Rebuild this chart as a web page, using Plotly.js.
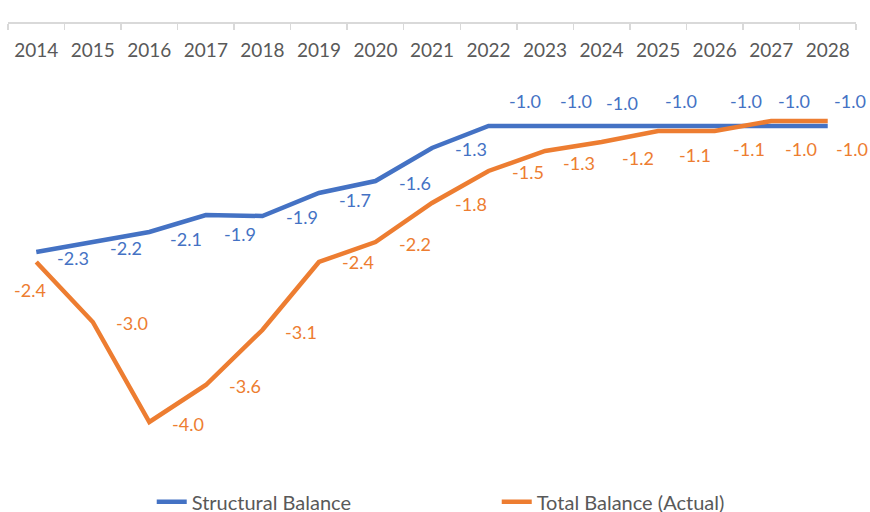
<!DOCTYPE html>
<html>
<head>
<meta charset="utf-8">
<script src="https://cdn.plot.ly/plotly-3.0.1.min.js"></script>
<style>html,body{margin:0;padding:0;background:#fff;}#chart{width:870px;height:512px;}</style>
</head>
<body>
<div id="chart"></div>
<script>
const years = ['2014','2015','2016','2017','2018','2019','2020','2021','2022','2023','2024','2025','2026','2027','2028'];
const structuralBalance = [-2.30,-2.20,-2.10,-1.93,-1.94,-1.71,-1.59,-1.26,-1.04,-1.04,-1.04,-1.04,-1.04,-1.04,-1.04];
const totalBalance = [-2.40,-3.00,-4.00,-3.63,-3.08,-2.40,-2.20,-1.81,-1.49,-1.29,-1.20,-1.09,-1.09,-0.99,-0.99];
const seriesNames = ['Structural Balance','Total Balance (Actual)'];

// label offsets in pixels (style only): [dx, dy] with dy positive = downward
const blueOffsets = [[37,6],[33,6],[37,7],[34,19],[40,1],[36,7],[40,2],[39,1],[36,-25],[31,-25],[20,-23],[23,-25],[31,-25],[23,-25],[22,-25]];
const orangeOffsets = [[-6,28],[39,1],[39,2],[39,1],[39,2],[39,0],[40,2],[39,1],[39,1],[34,12],[36,16],[37,24],[34,18],[30,28],[24,28]];

const BLUE = '#4472C4', ORANGE = '#ED7D31';
const FONT = 'Lato, sans-serif';

const traces = [
  {x: years, y: structuralBalance, type: 'scatter', mode: 'lines', name: seriesNames[0],
   line: {color: BLUE, width: 4.5}, hoverinfo: 'skip'},
  {x: years, y: totalBalance, type: 'scatter', mode: 'lines', name: seriesNames[1],
   line: {color: ORANGE, width: 4.5}, hoverinfo: 'skip'}
];

const annotations = [];
function addLabels(vals, offs, color) {
  vals.forEach(function(v, i) {
    annotations.push({x: i, y: v, xref: 'x', yref: 'y', text: v.toFixed(1),
      showarrow: false, xanchor: 'center', yanchor: 'middle',
      xshift: offs[i][0], yshift: -offs[i][1], font: {family: FONT, size: 18, color: color}});
  });
}
addLabels(structuralBalance, blueOffsets, BLUE);
addLabels(totalBalance, orangeOffsets, ORANGE);

const layout = {
  width: 870, height: 512,
  margin: {l: 8, r: 14, t: 22, b: 40, autoexpand: false},
  paper_bgcolor: '#fff', plot_bgcolor: '#fff',
  font: {family: FONT, size: 18, color: '#595959'},
  showlegend: true,
  legend: {orientation: 'h', x: 0.1695, xanchor: 'left', y: -0.066, yanchor: 'middle',
    font: {family: FONT, size: 20, color: '#595959'}, entrywidth: 300, traceorder: 'normal',
    tracegroupgap: 0, borderwidth: 0},
  xaxis: {type: 'category', range: [-0.5, 14.5], anchor: 'free', position: 1, side: 'bottom',
    showline: true, linecolor: '#D9D9D9', linewidth: 1.5, showgrid: false, zeroline: false,
    ticks: 'outside', ticklen: 6, tickwidth: 1.5, tickcolor: '#D9D9D9', tickson: 'boundaries',
    ticklabelstandoff: 11, tickfont: {family: FONT, size: 19, color: '#595959'}},
  xaxis2: {type: 'linear', overlaying: 'x', range: [-0.5, 14.5], anchor: 'free', position: 1, side: 'top',
    showline: false, showgrid: false, zeroline: false, tickmode: 'linear', tick0: -0.5, dtick: 1,
    ticks: 'outside', ticklen: 6, tickwidth: 1.5, tickcolor: '#D9D9D9', showticklabels: false},
  yaxis: {range: [-4.5, 0], domain: [0, 1], visible: false, showgrid: false, zeroline: false},
  annotations: annotations
};

Plotly.newPlot('chart', traces, layout, {staticPlot: true, displayModeBar: false});
</script>
</body>
</html>
